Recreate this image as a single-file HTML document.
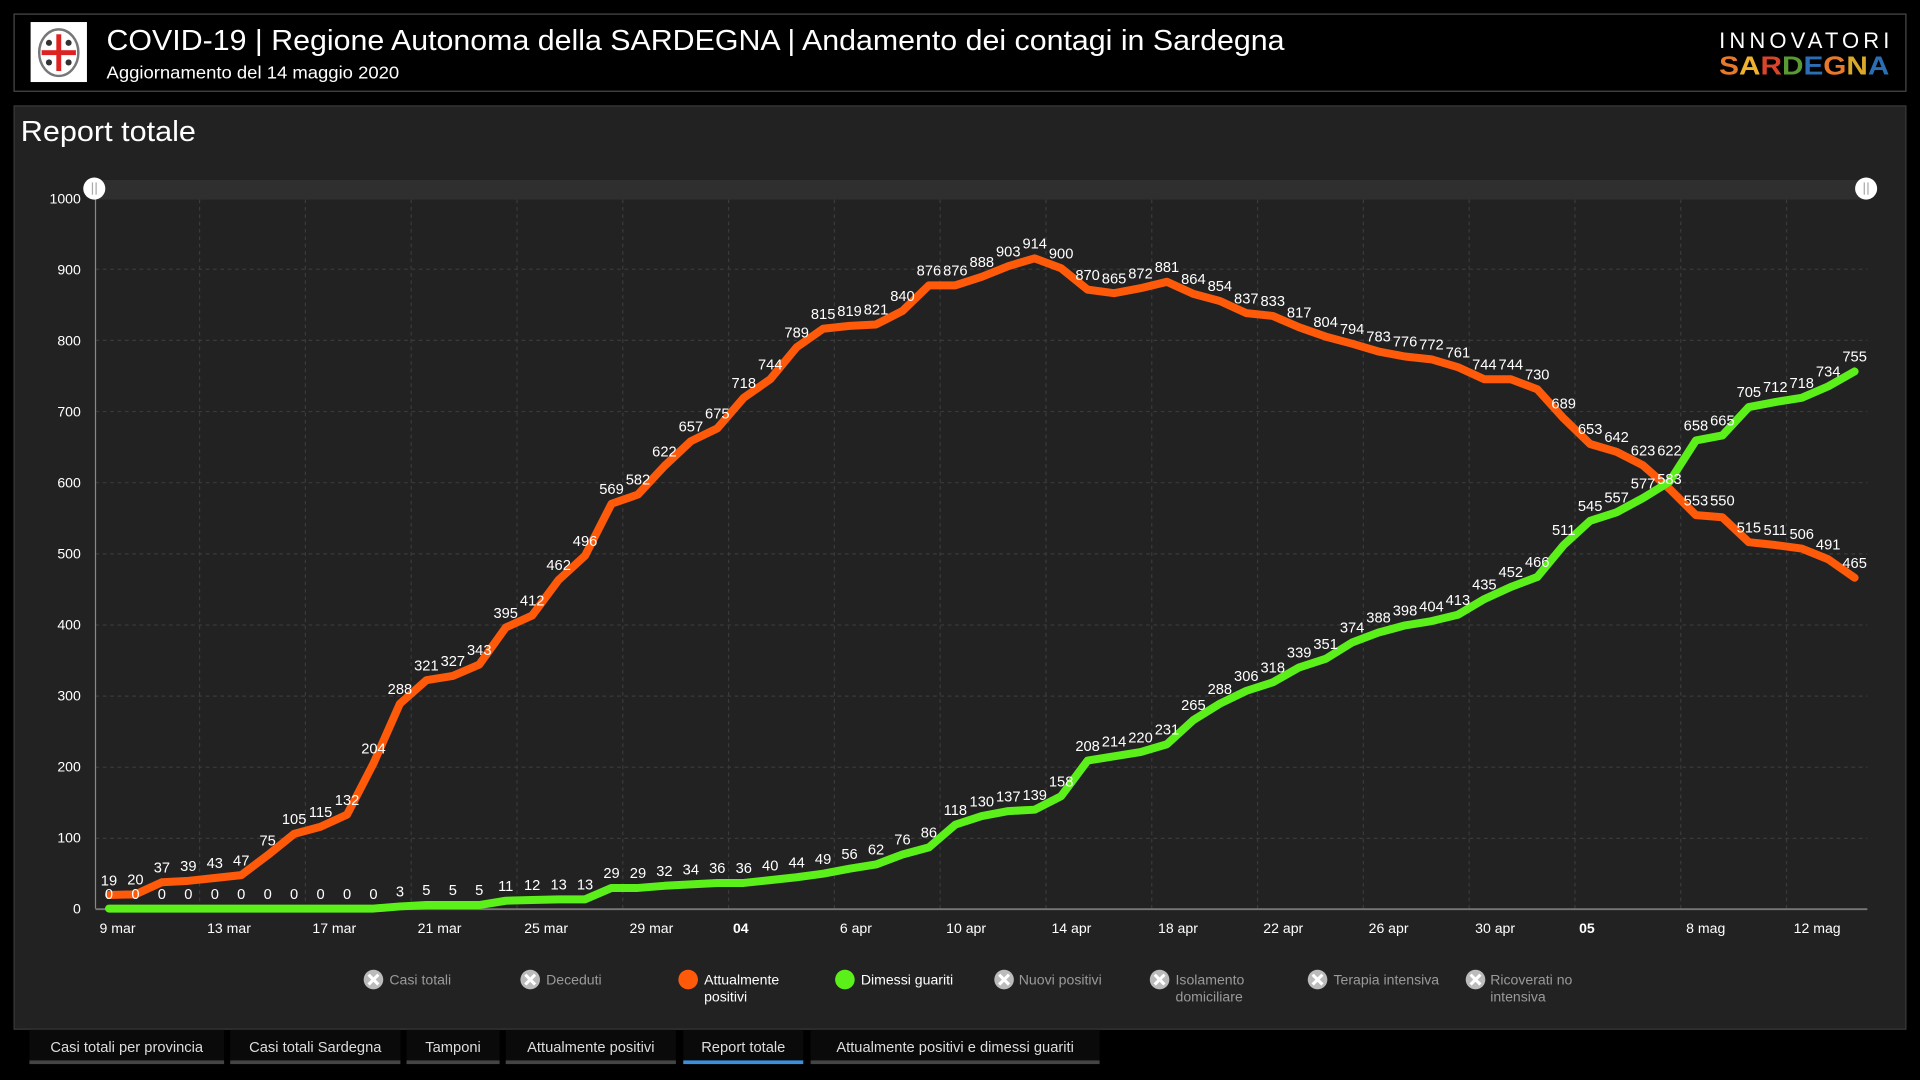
<!DOCTYPE html>
<html><head><meta charset="utf-8"><style>
html,body{margin:0;padding:0;background:#000;width:1920px;height:1080px;overflow:hidden}
svg{display:block}
text{font-family:"Liberation Sans",sans-serif}
.dl text{font-size:12px;fill:#fff;text-anchor:middle}
.yl{font-size:11.5px;fill:#fff;text-anchor:end}
.xl{font-size:11.5px;fill:#fff;text-anchor:middle}
.lg{font-size:11.5px;fill:#9a9a9a}
.tab{font-size:12px;fill:#ddd;text-anchor:middle}
</style></head><body>
<svg width="1920" height="1080" viewBox="0 0 1568 882" xmlns="http://www.w3.org/2000/svg">
<rect width="1568" height="882" fill="#000"/>
<!-- header -->
<rect x="11.5" y="11.5" width="1545" height="63" fill="#000" stroke="#4a4a4a"/>
<rect x="25" y="18" width="46" height="49" fill="#fff"/>
<ellipse cx="48" cy="43" rx="16" ry="19" fill="none" stroke="#777" stroke-width="2"/>
<rect x="46" y="28" width="4" height="30" fill="#d22"/>
<rect x="34" y="41" width="28" height="4" fill="#d22"/>
<circle cx="40" cy="35" r="2.5" fill="#333"/><circle cx="56" cy="35" r="2.5" fill="#333"/>
<circle cx="40" cy="51" r="2.5" fill="#333"/><circle cx="56" cy="51" r="2.5" fill="#333"/>
<text x="87" y="41" font-size="23.5" fill="#fff" textLength="962" lengthAdjust="spacingAndGlyphs">COVID-19 | Regione Autonoma della SARDEGNA | Andamento dei contagi in Sardegna</text>
<text x="87" y="64" font-size="14" fill="#fff" textLength="239" lengthAdjust="spacingAndGlyphs">Aggiornamento del 14 maggio 2020</text>
<text x="1404" y="39" font-size="18" fill="#fff" textLength="139" lengthAdjust="spacing">INNOVATORI</text>
<text x="1404" y="61" font-size="21" font-weight="bold" textLength="139" lengthAdjust="spacingAndGlyphs"><tspan fill="#e8792a">S</tspan><tspan fill="#f0b22e">A</tspan><tspan fill="#d8452c">R</tspan><tspan fill="#5a9a35">D</tspan><tspan fill="#2a6fb5">E</tspan><tspan fill="#e8792a">G</tspan><tspan fill="#d9a92a">N</tspan><tspan fill="#2a6fb5">A</tspan></text>
<!-- panel -->
<rect x="11.5" y="86.5" width="1545" height="754" fill="#222" stroke="#3a3a3a"/>
<text x="17" y="115" font-size="23.5" fill="#fff" textLength="143" lengthAdjust="spacingAndGlyphs">Report totale</text>
<rect x="77" y="147" width="1447" height="16" fill="#2f2f2f"/>
<!-- grid -->
<g stroke="#3a3a3a" stroke-dasharray="3,3" stroke-width="1">
<line x1="78" y1="219.9" x2="1525" y2="219.9"/><line x1="78" y1="278" x2="1525" y2="278"/>
<line x1="78" y1="336.1" x2="1525" y2="336.1"/><line x1="78" y1="394.2" x2="1525" y2="394.2"/>
<line x1="78" y1="452.3" x2="1525" y2="452.3"/><line x1="78" y1="510.4" x2="1525" y2="510.4"/>
<line x1="78" y1="568.5" x2="1525" y2="568.5"/><line x1="78" y1="626.6" x2="1525" y2="626.6"/>
<line x1="78" y1="684.7" x2="1525" y2="684.7"/>
<line x1="163" y1="163" x2="163" y2="742"/><line x1="249.4" y1="163" x2="249.4" y2="742"/>
<line x1="335.8" y1="163" x2="335.8" y2="742"/><line x1="422.2" y1="163" x2="422.2" y2="742"/>
<line x1="508.6" y1="163" x2="508.6" y2="742"/><line x1="595" y1="163" x2="595" y2="742"/>
<line x1="681.4" y1="163" x2="681.4" y2="742"/><line x1="767.8" y1="163" x2="767.8" y2="742"/>
<line x1="854.2" y1="163" x2="854.2" y2="742"/><line x1="940.6" y1="163" x2="940.6" y2="742"/>
<line x1="1027" y1="163" x2="1027" y2="742"/><line x1="1113.4" y1="163" x2="1113.4" y2="742"/>
<line x1="1199.8" y1="163" x2="1199.8" y2="742"/><line x1="1286.2" y1="163" x2="1286.2" y2="742"/>
<line x1="1372.6" y1="163" x2="1372.6" y2="742"/><line x1="1459" y1="163" x2="1459" y2="742"/>
</g>
<line x1="78" y1="161" x2="78" y2="742" stroke="#888"/>
<line x1="78" y1="742.5" x2="1525" y2="742.5" stroke="#777" stroke-width="1.5"/>
<g class="yl">
<text x="66" y="166">1000</text><text x="66" y="224">900</text><text x="66" y="282">800</text>
<text x="66" y="340">700</text><text x="66" y="398">600</text><text x="66" y="456">500</text>
<text x="66" y="514">400</text><text x="66" y="572">300</text><text x="66" y="630">200</text>
<text x="66" y="688">100</text><text x="66" y="746">0</text>
</g>
<g class="xl">
<text x="96" y="762">9 mar</text><text x="187" y="762">13 mar</text><text x="273" y="762">17 mar</text>
<text x="359" y="762">21 mar</text><text x="446" y="762">25 mar</text><text x="532" y="762">29 mar</text>
<text x="605" y="762" font-weight="bold">04</text><text x="699" y="762">6 apr</text>
<text x="789" y="762">10 apr</text><text x="875" y="762">14 apr</text><text x="962" y="762">18 apr</text>
<text x="1048" y="762">22 apr</text><text x="1134" y="762">26 apr</text><text x="1221" y="762">30 apr</text>
<text x="1296" y="762" font-weight="bold">05</text><text x="1393" y="762">8 mag</text><text x="1484" y="762">12 mag</text>
</g>
<!-- lines -->
<g transform="translate(89,742) scale(21.6,-0.581)" fill="none" stroke-width="8" stroke-linejoin="round" stroke-linecap="round">
<polyline vector-effect="non-scaling-stroke" stroke="#ff5a0a" points="0,19 1,20 2,37 3,39 4,43 5,47 6,75 7,105 8,115 9,132 10,204 11,288 12,321 13,327 14,343 15,395 16,412 17,462 18,496 19,569 20,582 21,622 22,657 23,675 24,718 25,744 26,789 27,815 28,819 29,821 30,840 31,876 32,876 33,888 34,903 35,914 36,900 37,870 38,865 39,872 40,881 41,864 42,854 43,837 44,833 45,817 46,804 47,794 48,783 49,776 50,772 51,761 52,744 53,744 54,730 55,689 56,653 57,642 58,623 59,590 60,553 61,550 62,515 63,511 64,506 65,491 66,465"/>
<polyline vector-effect="non-scaling-stroke" stroke="#5cf01a" points="0,0 1,0 2,0 3,0 4,0 5,0 6,0 7,0 8,0 9,0 10,0 11,3 12,5 13,5 14,5 15,11 16,12 17,13 18,13 19,29 20,29 21,32 22,34 23,36 24,36 25,40 26,44 27,49 28,56 29,62 30,76 31,86 32,118 33,130 34,137 35,139 36,158 37,208 38,214 39,220 40,231 41,265 42,288 43,306 44,318 45,339 46,351 47,374 48,388 49,398 50,404 51,413 52,435 53,452 54,466 55,511 56,545 57,557 58,577 59,600 60,658 61,665 62,705 63,712 64,718 65,734 66,755"/>
</g>
<!-- data labels -->
<g class="dl" transform="translate(89,734) scale(21.6,-0.581)">
<g transform="translate(0,19) scale(.046296,-1.72117)"><text>19</text></g>
<g transform="translate(1,20) scale(.046296,-1.72117)"><text>20</text></g>
<g transform="translate(2,37) scale(.046296,-1.72117)"><text>37</text></g>
<g transform="translate(3,39) scale(.046296,-1.72117)"><text>39</text></g>
<g transform="translate(4,43) scale(.046296,-1.72117)"><text>43</text></g>
<g transform="translate(5,47) scale(.046296,-1.72117)"><text>47</text></g>
<g transform="translate(6,75) scale(.046296,-1.72117)"><text>75</text></g>
<g transform="translate(7,105) scale(.046296,-1.72117)"><text>105</text></g>
<g transform="translate(8,115) scale(.046296,-1.72117)"><text>115</text></g>
<g transform="translate(9,132) scale(.046296,-1.72117)"><text>132</text></g>
<g transform="translate(10,204) scale(.046296,-1.72117)"><text>204</text></g>
<g transform="translate(11,288) scale(.046296,-1.72117)"><text>288</text></g>
<g transform="translate(12,321) scale(.046296,-1.72117)"><text>321</text></g>
<g transform="translate(13,327) scale(.046296,-1.72117)"><text>327</text></g>
<g transform="translate(14,343) scale(.046296,-1.72117)"><text>343</text></g>
<g transform="translate(15,395) scale(.046296,-1.72117)"><text>395</text></g>
<g transform="translate(16,412) scale(.046296,-1.72117)"><text>412</text></g>
<g transform="translate(17,462) scale(.046296,-1.72117)"><text>462</text></g>
<g transform="translate(18,496) scale(.046296,-1.72117)"><text>496</text></g>
<g transform="translate(19,569) scale(.046296,-1.72117)"><text>569</text></g>
<g transform="translate(20,582) scale(.046296,-1.72117)"><text>582</text></g>
<g transform="translate(21,622) scale(.046296,-1.72117)"><text>622</text></g>
<g transform="translate(22,657) scale(.046296,-1.72117)"><text>657</text></g>
<g transform="translate(23,675) scale(.046296,-1.72117)"><text>675</text></g>
<g transform="translate(24,718) scale(.046296,-1.72117)"><text>718</text></g>
<g transform="translate(25,744) scale(.046296,-1.72117)"><text>744</text></g>
<g transform="translate(26,789) scale(.046296,-1.72117)"><text>789</text></g>
<g transform="translate(27,815) scale(.046296,-1.72117)"><text>815</text></g>
<g transform="translate(28,819) scale(.046296,-1.72117)"><text>819</text></g>
<g transform="translate(29,821) scale(.046296,-1.72117)"><text>821</text></g>
<g transform="translate(30,840) scale(.046296,-1.72117)"><text>840</text></g>
<g transform="translate(31,876) scale(.046296,-1.72117)"><text>876</text></g>
<g transform="translate(32,876) scale(.046296,-1.72117)"><text>876</text></g>
<g transform="translate(33,888) scale(.046296,-1.72117)"><text>888</text></g>
<g transform="translate(34,903) scale(.046296,-1.72117)"><text>903</text></g>
<g transform="translate(35,914) scale(.046296,-1.72117)"><text>914</text></g>
<g transform="translate(36,900) scale(.046296,-1.72117)"><text>900</text></g>
<g transform="translate(37,870) scale(.046296,-1.72117)"><text>870</text></g>
<g transform="translate(38,865) scale(.046296,-1.72117)"><text>865</text></g>
<g transform="translate(39,872) scale(.046296,-1.72117)"><text>872</text></g>
<g transform="translate(40,881) scale(.046296,-1.72117)"><text>881</text></g>
<g transform="translate(41,864) scale(.046296,-1.72117)"><text>864</text></g>
<g transform="translate(42,854) scale(.046296,-1.72117)"><text>854</text></g>
<g transform="translate(43,837) scale(.046296,-1.72117)"><text>837</text></g>
<g transform="translate(44,833) scale(.046296,-1.72117)"><text>833</text></g>
<g transform="translate(45,817) scale(.046296,-1.72117)"><text>817</text></g>
<g transform="translate(46,804) scale(.046296,-1.72117)"><text>804</text></g>
<g transform="translate(47,794) scale(.046296,-1.72117)"><text>794</text></g>
<g transform="translate(48,783) scale(.046296,-1.72117)"><text>783</text></g>
<g transform="translate(49,776) scale(.046296,-1.72117)"><text>776</text></g>
<g transform="translate(50,772) scale(.046296,-1.72117)"><text>772</text></g>
<g transform="translate(51,761) scale(.046296,-1.72117)"><text>761</text></g>
<g transform="translate(52,744) scale(.046296,-1.72117)"><text>744</text></g>
<g transform="translate(53,744) scale(.046296,-1.72117)"><text>744</text></g>
<g transform="translate(54,730) scale(.046296,-1.72117)"><text>730</text></g>
<g transform="translate(55,689) scale(.046296,-1.72117)"><text>689</text></g>
<g transform="translate(56,653) scale(.046296,-1.72117)"><text>653</text></g>
<g transform="translate(57,642) scale(.046296,-1.72117)"><text>642</text></g>
<g transform="translate(58,623) scale(.046296,-1.72117)"><text>623</text></g>
<g transform="translate(59,623) scale(.046296,-1.72117)"><text>622</text></g>
<g transform="translate(60,553) scale(.046296,-1.72117)"><text>553</text></g>
<g transform="translate(61,553) scale(.046296,-1.72117)"><text>550</text></g>
<g transform="translate(62,515) scale(.046296,-1.72117)"><text>515</text></g>
<g transform="translate(63,511) scale(.046296,-1.72117)"><text>511</text></g>
<g transform="translate(64,506) scale(.046296,-1.72117)"><text>506</text></g>
<g transform="translate(65,491) scale(.046296,-1.72117)"><text>491</text></g>
<g transform="translate(66,465) scale(.046296,-1.72117)"><text>465</text></g>
<!-- green -->
<g transform="translate(0,0) scale(.046296,-1.72117)"><text>0</text></g>
<g transform="translate(1,0) scale(.046296,-1.72117)"><text>0</text></g>
<g transform="translate(2,0) scale(.046296,-1.72117)"><text>0</text></g>
<g transform="translate(3,0) scale(.046296,-1.72117)"><text>0</text></g>
<g transform="translate(4,0) scale(.046296,-1.72117)"><text>0</text></g>
<g transform="translate(5,0) scale(.046296,-1.72117)"><text>0</text></g>
<g transform="translate(6,0) scale(.046296,-1.72117)"><text>0</text></g>
<g transform="translate(7,0) scale(.046296,-1.72117)"><text>0</text></g>
<g transform="translate(8,0) scale(.046296,-1.72117)"><text>0</text></g>
<g transform="translate(9,0) scale(.046296,-1.72117)"><text>0</text></g>
<g transform="translate(10,0) scale(.046296,-1.72117)"><text>0</text></g>
<g transform="translate(11,3) scale(.046296,-1.72117)"><text>3</text></g>
<g transform="translate(12,5) scale(.046296,-1.72117)"><text>5</text></g>
<g transform="translate(13,5) scale(.046296,-1.72117)"><text>5</text></g>
<g transform="translate(14,5) scale(.046296,-1.72117)"><text>5</text></g>
<g transform="translate(15,11) scale(.046296,-1.72117)"><text>11</text></g>
<g transform="translate(16,12) scale(.046296,-1.72117)"><text>12</text></g>
<g transform="translate(17,13) scale(.046296,-1.72117)"><text>13</text></g>
<g transform="translate(18,13) scale(.046296,-1.72117)"><text>13</text></g>
<g transform="translate(19,29) scale(.046296,-1.72117)"><text>29</text></g>
<g transform="translate(20,29) scale(.046296,-1.72117)"><text>29</text></g>
<g transform="translate(21,32) scale(.046296,-1.72117)"><text>32</text></g>
<g transform="translate(22,34) scale(.046296,-1.72117)"><text>34</text></g>
<g transform="translate(23,36) scale(.046296,-1.72117)"><text>36</text></g>
<g transform="translate(24,36) scale(.046296,-1.72117)"><text>36</text></g>
<g transform="translate(25,40) scale(.046296,-1.72117)"><text>40</text></g>
<g transform="translate(26,44) scale(.046296,-1.72117)"><text>44</text></g>
<g transform="translate(27,49) scale(.046296,-1.72117)"><text>49</text></g>
<g transform="translate(28,56) scale(.046296,-1.72117)"><text>56</text></g>
<g transform="translate(29,62) scale(.046296,-1.72117)"><text>62</text></g>
<g transform="translate(30,76) scale(.046296,-1.72117)"><text>76</text></g>
<g transform="translate(31,86) scale(.046296,-1.72117)"><text>86</text></g>
<g transform="translate(32,118) scale(.046296,-1.72117)"><text>118</text></g>
<g transform="translate(33,130) scale(.046296,-1.72117)"><text>130</text></g>
<g transform="translate(34,137) scale(.046296,-1.72117)"><text>137</text></g>
<g transform="translate(35,139) scale(.046296,-1.72117)"><text>139</text></g>
<g transform="translate(36,158) scale(.046296,-1.72117)"><text>158</text></g>
<g transform="translate(37,208) scale(.046296,-1.72117)"><text>208</text></g>
<g transform="translate(38,214) scale(.046296,-1.72117)"><text>214</text></g>
<g transform="translate(39,220) scale(.046296,-1.72117)"><text>220</text></g>
<g transform="translate(40,231) scale(.046296,-1.72117)"><text>231</text></g>
<g transform="translate(41,265) scale(.046296,-1.72117)"><text>265</text></g>
<g transform="translate(42,288) scale(.046296,-1.72117)"><text>288</text></g>
<g transform="translate(43,306) scale(.046296,-1.72117)"><text>306</text></g>
<g transform="translate(44,318) scale(.046296,-1.72117)"><text>318</text></g>
<g transform="translate(45,339) scale(.046296,-1.72117)"><text>339</text></g>
<g transform="translate(46,351) scale(.046296,-1.72117)"><text>351</text></g>
<g transform="translate(47,374) scale(.046296,-1.72117)"><text>374</text></g>
<g transform="translate(48,388) scale(.046296,-1.72117)"><text>388</text></g>
<g transform="translate(49,398) scale(.046296,-1.72117)"><text>398</text></g>
<g transform="translate(50,404) scale(.046296,-1.72117)"><text>404</text></g>
<g transform="translate(51,413) scale(.046296,-1.72117)"><text>413</text></g>
<g transform="translate(52,435) scale(.046296,-1.72117)"><text>435</text></g>
<g transform="translate(53,452) scale(.046296,-1.72117)"><text>452</text></g>
<g transform="translate(54,466) scale(.046296,-1.72117)"><text>466</text></g>
<g transform="translate(55,511) scale(.046296,-1.72117)"><text>511</text></g>
<g transform="translate(56,545) scale(.046296,-1.72117)"><text>545</text></g>
<g transform="translate(57,557) scale(.046296,-1.72117)"><text>557</text></g>
<g transform="translate(58,577) scale(.046296,-1.72117)"><text>577</text></g>
<g transform="translate(59,583) scale(.046296,-1.72117)"><text>583</text></g>
<g transform="translate(60,658) scale(.046296,-1.72117)"><text>658</text></g>
<g transform="translate(61,665) scale(.046296,-1.72117)"><text>665</text></g>
<g transform="translate(62,705) scale(.046296,-1.72117)"><text>705</text></g>
<g transform="translate(63,712) scale(.046296,-1.72117)"><text>712</text></g>
<g transform="translate(64,718) scale(.046296,-1.72117)"><text>718</text></g>
<g transform="translate(65,734) scale(.046296,-1.72117)"><text>734</text></g>
<g transform="translate(66,755) scale(.046296,-1.72117)"><text>755</text></g>
</g>
<!-- scrollbar handles -->
<circle cx="77" cy="154" r="9" fill="#fff"/><line x1="75.5" y1="149" x2="75.5" y2="159" stroke="#aaa"/><line x1="78.5" y1="149" x2="78.5" y2="159" stroke="#aaa"/>
<circle cx="1524" cy="154" r="9" fill="#fff"/><line x1="1522.5" y1="149" x2="1522.5" y2="159" stroke="#aaa"/><line x1="1525.5" y1="149" x2="1525.5" y2="159" stroke="#aaa"/>
<!-- legend -->
<g>
<circle cx="305" cy="800" r="8" fill="#bbb"/><path d="M301 796 L309 804 M309 796 L301 804" stroke="#fff" stroke-width="2.5"/>
<text class="lg" x="318" y="804">Casi totali</text>
<circle cx="433" cy="800" r="8" fill="#bbb"/><path d="M429 796 L437 804 M437 796 L429 804" stroke="#fff" stroke-width="2.5"/>
<text class="lg" x="446" y="804">Deceduti</text>
<circle cx="562" cy="800" r="8" fill="#ff5a0a"/>
<text class="lg" x="575" y="804" style="fill:#fff">Attualmente</text><text class="lg" x="575" y="818" style="fill:#fff">positivi</text>
<circle cx="690" cy="800" r="8" fill="#5cf01a"/>
<text class="lg" x="703" y="804" style="fill:#fff">Dimessi guariti</text>
<circle cx="820" cy="800" r="8" fill="#bbb"/><path d="M816 796 L824 804 M824 796 L816 804" stroke="#fff" stroke-width="2.5"/>
<text class="lg" x="832" y="804">Nuovi positivi</text>
<circle cx="947" cy="800" r="8" fill="#bbb"/><path d="M943 796 L951 804 M951 796 L943 804" stroke="#fff" stroke-width="2.5"/>
<text class="lg" x="960" y="804">Isolamento</text><text class="lg" x="960" y="818">domiciliare</text>
<circle cx="1076" cy="800" r="8" fill="#bbb"/><path d="M1072 796 L1080 804 M1080 796 L1072 804" stroke="#fff" stroke-width="2.5"/>
<text class="lg" x="1089" y="804">Terapia intensiva</text>
<circle cx="1205" cy="800" r="8" fill="#bbb"/><path d="M1201 796 L1209 804 M1209 796 L1201 804" stroke="#fff" stroke-width="2.5"/>
<text class="lg" x="1217" y="804">Ricoverati no</text><text class="lg" x="1217" y="818">intensiva</text>
</g>
<!-- tabs -->
<g>
<rect x="24" y="841" width="159" height="27" fill="#0a0a0a"/><rect x="24" y="866" width="159" height="3" fill="#444"/>
<text class="tab" x="103.5" y="859">Casi totali per provincia</text>
<rect x="188" y="841" width="139" height="27" fill="#0a0a0a"/><rect x="188" y="866" width="139" height="3" fill="#444"/>
<text class="tab" x="257.5" y="859">Casi totali Sardegna</text>
<rect x="332" y="841" width="76" height="27" fill="#0a0a0a"/><rect x="332" y="866" width="76" height="3" fill="#444"/>
<text class="tab" x="370" y="859">Tamponi</text>
<rect x="413" y="841" width="139" height="27" fill="#0a0a0a"/><rect x="413" y="866" width="139" height="3" fill="#444"/>
<text class="tab" x="482.5" y="859">Attualmente positivi</text>
<rect x="558" y="841" width="98" height="27" fill="#0a0a0a"/><rect x="558" y="866" width="98" height="3" fill="#3b8fdb"/>
<text class="tab" x="607" y="859">Report totale</text>
<rect x="662" y="841" width="236" height="27" fill="#0a0a0a"/><rect x="662" y="866" width="236" height="3" fill="#444"/>
<text class="tab" x="780" y="859">Attualmente positivi e dimessi guariti</text>
</g>
</svg>
</body></html>
